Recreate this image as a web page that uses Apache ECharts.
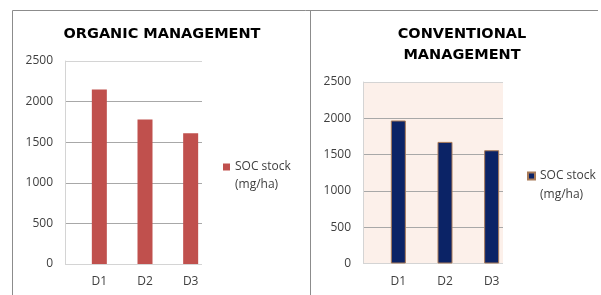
<!DOCTYPE html>
<html><head><meta charset="utf-8">
<script src="https://cdn.jsdelivr.net/npm/echarts@6/dist/echarts.min.js"></script>
<style>html,body{margin:0;padding:0;background:#fff}#c{width:601px;height:295px}</style>
</head><body><div id="c"></div>
<script>
const categories = ['D1', 'D2', 'D3'];
const organicValues = [2150, 1780, 1610];
const conventionalValues = [1970, 1675, 1560];
const yTicks = [0, 500, 1000, 1500, 2000, 2500];
const titleOrganic = 'ORGANIC MANAGEMENT';
const titleConventional = 'CONVENTIONAL\nMANAGEMENT';
const seriesNameLeft = 'SOC stock\n(mg/ha)';
const seriesNameRight = 'SOC stock\n(mg/ha) ';

const font = 'Open Sans';
const yMin = yTicks[0], yMax = yTicks[yTicks.length - 1], yInt = yTicks[1] - yTicks[0];
const splitColors = ['#d4d4d4', '#a8a8a8', '#a8a8a8', '#a8a8a8', '#a8a8a8', '#d4d4d4'];

function valueAxis(gridIndex, show) {
  return {
    type: 'value', gridIndex, min: yMin, max: yMax, interval: yInt,
    axisLine: { show: show, lineStyle: { color: '#d4d4d4' } },
    axisTick: { show: false },
    axisLabel: { show: show, color: '#404040', fontFamily: font, fontSize: 12, margin: 12,
      formatter: v => String(v) },
    splitLine: { show: show, lineStyle: { color: splitColors, width: 1 } }
  };
}
function catAxis(gridIndex, show) {
  return {
    type: 'category', gridIndex, data: categories,
    axisLine: { show: false }, axisTick: { show: false },
    axisLabel: { show: show, color: '#404040', fontFamily: font, fontSize: 12, margin: 12 }
  };
}

const chart = echarts.init(document.getElementById('c'), null, { renderer: 'canvas' });
chart.setOption({
  animation: false,
  title: [
    { text: titleOrganic, left: 162, top: 27, textAlign: 'center', padding: 0,
      textStyle: { fontFamily: 'DejaVu Sans', fontWeight: 'bold', fontSize: 14.5, color: '#000' } },
    { text: titleConventional, left: 462, top: 24, textAlign: 'center', padding: 0,
      textStyle: { fontFamily: 'DejaVu Sans', fontWeight: 'bold', fontSize: 14.5, color: '#000', lineHeight: 21 } }
  ],
  grid: [
    { left: 65, top: 61, width: 137, height: 203, show: false },
    { left: 76.5, top: 61, width: 137, height: 203, show: false },
    { left: 363, top: 82, width: 140, height: 181.5, show: true, backgroundColor: '#fcf0ea', borderWidth: 0 },
    { left: 375, top: 82, width: 140, height: 181.5, show: false }
  ],
  xAxis: [catAxis(0, false), catAxis(1, true), catAxis(2, false), catAxis(3, true)],
  yAxis: [valueAxis(0, true), valueAxis(1, false), valueAxis(2, true), valueAxis(3, false)],
  legend: [
    { data: [seriesNameLeft], left: 223, top: 158, padding: 0, itemWidth: 7, itemHeight: 25, itemGap: 0,
      selectedMode: false, icon: 'path://M0,0L7,0L7,7L0,7ZM0,25L0,25',
      textStyle: { fontFamily: font, fontSize: 12, color: '#404040', lineHeight: 18 } },
    { data: [seriesNameRight], left: 527, top: 166.5, padding: 0, itemWidth: 7, itemHeight: 26, itemGap: 0,
      selectedMode: false, icon: 'path://M0,0L7,0L7,7L0,7ZM0,26L0,26',
      textStyle: { fontFamily: font, fontSize: 12, color: '#404040', lineHeight: 19 } }
  ],
  series: [
    { name: seriesNameLeft, type: 'bar', xAxisIndex: 1, yAxisIndex: 1, data: organicValues,
      barWidth: 15, itemStyle: { color: '#c0504d' } },
    { name: seriesNameRight, type: 'bar', xAxisIndex: 3, yAxisIndex: 3, data: conventionalValues,
      barWidth: 15, itemStyle: { color: '#0b2366', borderColor: '#a87a58', borderWidth: 1 } }
  ],
  graphic: [
    { type: 'polyline', shape: { points: [[12.5, 295], [12.5, 10.5], [598, 10.5]] },
      style: { stroke: '#8c8c8c', fill: null, lineWidth: 1 }, silent: true },
    { type: 'line', shape: { x1: 310.5, y1: 10.5, x2: 310.5, y2: 295 },
      style: { stroke: '#8c8c8c', lineWidth: 1 }, silent: true }
  ]
});
</script></body></html>
